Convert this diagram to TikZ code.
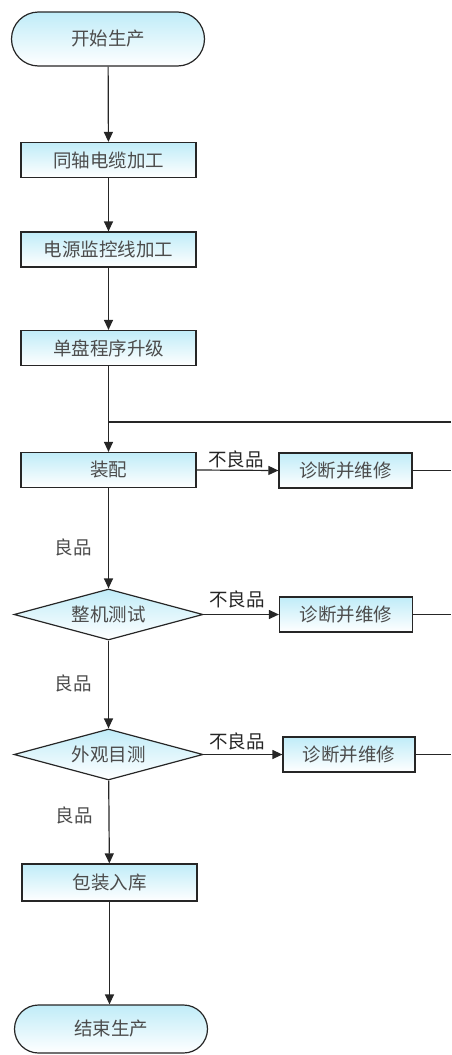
\documentclass[tikz,border=0pt]{standalone}
\usepackage{fontspec}
\setmainfont{Noto Sans CJK SC}
\usetikzlibrary{shapes.geometric,shapes.misc,arrows.meta}
\definecolor{boxtop}{RGB}{192,236,248}

\begin{document}
\begin{tikzpicture}[x=1pt,y=-1pt]
            \useasboundingbox (0,0) rectangle (451,1055);
            \begin{scope}[line width=1.2pt,draw=black!85,font=\fontsize{18.5}{20}\selectfont,
                box/.style={rectangle,draw=black!85,top color=boxtop,bottom color=white,inner sep=0pt,
                    minimum width=175pt,minimum height=35pt,text=black!70},
                fixbox/.style={box,minimum width=133pt},
                term/.style={rounded rectangle,draw=black!85,top color=boxtop,bottom color=white,inner sep=0pt,
                    minimum width=193pt,minimum height=#1,text=black!70},
                test/.style={diamond,draw=black!85,top color=boxtop,bottom color=white,inner sep=0pt,aspect=3.7,
                    minimum width=189pt,minimum height=51pt,text=black!70},
                flow/.style={-{Triangle[length=10pt,width=9pt]}}]
            % Main line of steps:
            \node [term=54pt] (start) at (108,39) {开始生产};
            \node [box] (coax) at (108.5,160) {同轴电缆加工};
            \node [box] (power) at (108.5,249.5) {电源监控线加工};
            \node [box] (upgrade) at (108.5,348) {单盘程序升级};
            \node [box] (assy) at (108.5,470) {装配};
            \node [test] (whole) at (108.5,614.5) {整机测试};
            \node [test] (look) at (108.5,754.5) {外观目测};
            \node [box,minimum height=37pt] (pack) at (109.5,882.5) {包装入库};
            \node [term=48pt] (stop) at (111,1029) {结束生产};

            % Repair boxes:
            \node [fixbox] (fixA) at (345.5,470.5) {诊断并维修};
            \node [fixbox] (fixB) at (346,614.5) {诊断并维修};
            \node [fixbox,minimum width=132pt] (fixC) at (349,754.5) {诊断并维修};

            % Return line, cut at the right edge:
            \coordinate (back) at (451,422);
            \coordinate (join) at (upgrade.south |- back);
            \coordinate (backA) at (451,470.5);
            \coordinate (backB) at (451,614.5);
            \coordinate (backC) at (451,754.5);

            % Arrows:
            \draw [flow] (start) -- (coax);
            \draw [flow] (coax) -- (power);
            \draw [flow] (power) -- (upgrade);
            \draw [flow] (upgrade) -- (assy);
            \draw (back) -- (join);
            \draw [flow] (assy) -- (whole);
            \draw [flow] (whole) -- (look);
            \draw [flow] (look) -- (pack);
            \draw [flow] (pack.south) -- (stop.north -| pack.south);
            \draw [flow] (assy.east) -- (fixA.west);
            \draw [flow] (whole.east) -- (fixB.west);
            \draw [flow] (look.east) -- (fixC.west);
            \draw (fixA) -- (backA);
            \draw (fixB) -- (backB);
            \draw (fixC) -- (backC);

            % Labels on the arrows:
            \node [text=black!85] (badA) at (236,459) {不良品};
            \node [text=black!85] (badB) at (237,599) {不良品};
            \node [text=black!85] (badC) at (237,741) {不良品};
            \node [text=black!70] (goodA) at (73,547) {良品};
            \node [text=black!70] (goodB) at (73,683) {良品};
            \node [text=black!70] (goodC) at (74,815) {良品};
            \end{scope}
\end{tikzpicture}
\end{document}
